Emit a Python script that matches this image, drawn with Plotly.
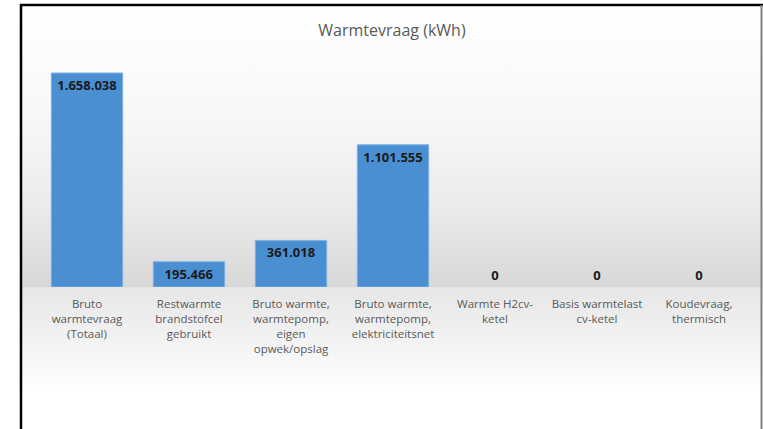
import base64
import plotly.graph_objects as go

categories = [
    "Bruto<br>warmtevraag<br>(Totaal)",
    "Restwarmte<br>brandstofcel<br>gebruikt",
    "Bruto warmte,<br>warmtepomp,<br>eigen<br>opwek/opslag",
    "Bruto warmte,<br>warmtepomp,<br>elektriciteitsnet",
    "Warmte H2cv-<br>ketel",
    "Basis warmtelast<br>cv-ketel",
    "Koudevraag,<br>thermisch",
]
values = [1658038, 195466, 361018, 1101555, 0, 0, 0]
title_text = "Warmtevraag (kWh)"

W, H = 763, 429
ML, MT = 36, 60
MR = W - 750
MB = H - 287
pw, ph = W - ML - MR, H - MT - MB


def px_x(p):
    return (p - ML) / pw


def px_y(p):
    return (H - MB - p) / ph


# background gradient (decoration)
top_px, bot_px = 6, 440
base_off = (287 - top_px) / (bot_px - top_px)
stops = [
    (0.0, "#ffffff"), (0.25, "#f8f8f8"), (0.45, "#ececec"),
    (base_off - 0.001, "#d8d8d8"), (base_off + 0.001, "#e6e6e6"),
    (0.80, "#f6f6f6"), (0.88, "#ffffff"), (1.0, "#ffffff"),
]
svg = ('<svg xmlns="http://www.w3.org/2000/svg" width="100" height="100" preserveAspectRatio="none">'
       '<defs><linearGradient id="g" x1="0" y1="0" x2="0" y2="1">'
       + "".join(f'<stop offset="{o:.4f}" stop-color="{c}"/>' for o, c in stops)
       + '</linearGradient></defs><rect width="100" height="100" fill="url(#g)"/></svg>')
src = "data:image/svg+xml;base64," + base64.b64encode(svg.encode()).decode()

positions = ["inside" if v > 0 else "outside" for v in values]
line_widths = [1 if v > 0 else 0 for v in values]

label_font = dict(family="Open Sans", size=13, color="#1a1a1a", weight="bold")

fig = go.Figure(go.Bar(
    x=categories, y=values,
    marker=dict(color="#4a8fd2", line=dict(color="#7fb2e3", width=line_widths)),
    texttemplate="%{y:,.0f}",
    textposition=positions,
    insidetextanchor="end",
    constraintext="none",
    cliponaxis=False,
    textfont=label_font,
    insidetextfont=label_font,
    outsidetextfont=label_font,
    hoverinfo="skip",
))

ymax = values[0] * ph / 214

fig.update_layout(
    width=W, height=H,
    margin=dict(l=ML, r=MR, t=MT, b=MB),
    paper_bgcolor="white", plot_bgcolor="rgba(0,0,0,0)",
    separators=",.",
    bargap=0.3,
    showlegend=False,
    title=dict(text=title_text, x=px_x(392), xref="paper", xanchor="center",
               y=1 - 30 / H, yanchor="middle",
               font=dict(family="Open Sans", size=16, color="#595959")),
    xaxis=dict(showgrid=False, showline=False, zeroline=False,
               ticks="outside", ticklen=6, tickcolor="rgba(0,0,0,0)",
               tickfont=dict(family="Open Sans", size=11.5, color="#595959")),
    yaxis=dict(range=[0, ymax], visible=False, showgrid=False, zeroline=False),
    images=[dict(source=src, xref="paper", yref="paper",
                 x=px_x(22), y=px_y(top_px), sizex=(761 - 22) / pw,
                 sizey=(bot_px - top_px) / ph, sizing="stretch",
                 xanchor="left", yanchor="top", layer="below")],
    shapes=[
        dict(type="line", xref="paper", yref="paper", x0=px_x(21), x1=px_x(21),
             y0=px_y(4), y1=px_y(440), line=dict(color="#000000", width=2.5)),
        dict(type="line", xref="paper", yref="paper", x0=px_x(20), x1=px_x(763),
             y0=px_y(5), y1=px_y(5), line=dict(color="#000000", width=2.5)),
        dict(type="line", xref="paper", yref="paper", x0=px_x(761.5), x1=px_x(761.5),
             y0=px_y(5), y1=px_y(440), line=dict(color="#808080", width=2)),
    ],
)

fig.write_html(
    "out.html",
    config={"displayModeBar": False},
    post_script="document.body.style.margin='0px';document.body.style.overflow='hidden';",
)
